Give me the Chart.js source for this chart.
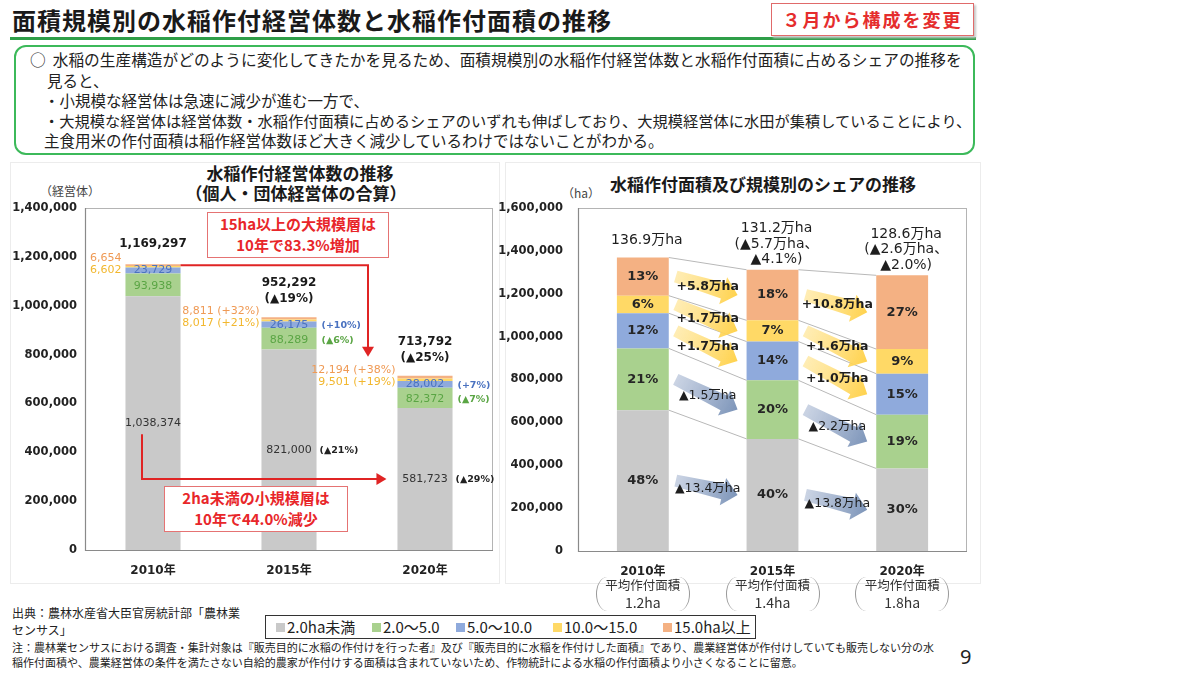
<!DOCTYPE html>
<html><head><meta charset="utf-8">
<script src="https://cdn.jsdelivr.net/npm/chart.js@4.4.0/dist/chart.umd.min.js"></script>
<style>
body{margin:0;width:1200px;height:675px;background:#fff;position:relative;overflow:hidden;font-family:"Noto Sans CJK JP",sans-serif;color:#222}
.a{position:absolute;white-space:nowrap}
.title{left:12px;top:2px;font-size:24px;font-weight:700;letter-spacing:1px;color:#1a1a1a;line-height:36px}
.rule{left:10px;top:37px;width:966px;height:3px;background:#2e9e48}
.redtag{left:771px;top:3px;width:201px;height:31px;border:1px solid #e06a6a;box-shadow:2px 2px 2px #c8c8c8;color:#e52d2d;font-weight:700;font-size:18px;letter-spacing:2px;text-align:center;line-height:31px}
.gbox{left:14px;top:45px;width:957px;height:106px;border:2.5px solid #3cb95a;border-radius:12px}
.gl{font-size:15.5px;line-height:20px;color:#222}
.ctitle{font-size:17px;font-weight:700;line-height:20px;color:#1a1a1a;transform:translateX(-50%)}
.unit{font-size:12px;color:#444;line-height:14px}
.redbox{border:1.5px solid #e57373;background:#fff;color:#e8262a;font-weight:700;font-size:15px;line-height:21px;text-align:center;z-index:3}
.brk{width:92px;height:34px;border-left:1.5px solid #999;border-right:1.5px solid #999;border-radius:12px/18px;text-align:center;transform:translateX(-50%)}
.brk .t1{font-size:12.5px;line-height:16px;color:#333}
.brk .t2{font-size:14px;line-height:18px;color:#333}
.leg{left:265px;top:615px;width:489px;height:22px;border:1.5px solid #333}
.li{font-size:15px;line-height:24px;color:#222;top:615px}
.sq{display:inline-block;width:9px;height:9px;margin-right:2px;vertical-align:1px}
.src{font-size:12px;line-height:16px;color:#222;left:12px}
.note{font-size:11px;line-height:15px;color:#222;left:12px}
.panel{border:1px solid #ececec}
</style></head><body>

<div class="a title">面積規模別の水稲作付経営体数と水稲作付面積の推移</div>
<div class="a rule"></div>
<div class="a redtag">３月から構成を変更</div>
<div class="a gbox"></div>
<div class="a gl" style="left:30px;top:50px;font-size:15.7px">○&nbsp;&nbsp;水稲の生産構造がどのように変化してきたかを見るため、面積規模別の水稲作付経営体数と水稲作付面積に占めるシェアの推移を</div>
<div class="a gl" style="left:47px;top:70px">見ると、</div>
<div class="a gl" style="left:44px;top:90px">・小規模な経営体は急速に減少が進む一方で、</div>
<div class="a gl" style="left:44px;top:110px;font-size:15.25px">・大規模な経営体は経営体数・水稲作付面積に占めるシェアのいずれも伸ばしており、大規模経営体に水田が集積していることにより、</div>
<div class="a gl" style="left:44px;top:130px">主食用米の作付面積は稲作経営体数ほど大きく減少しているわけではないことがわかる。</div>

<div class="a panel" style="left:10px;top:162px;width:488px;height:420px"></div>
<div class="a panel" style="left:505px;top:162px;width:474px;height:420px"></div>

<div class="a ctitle" style="left:300px;top:163px">水稲作付経営体数の推移</div>
<div class="a ctitle" style="left:296px;top:183px">（個人・団体経営体の合算）</div>
<div class="a unit" style="left:40px;top:184px">（経営体）</div>
<div class="a ctitle" style="left:763px;top:174px">水稲作付面積及び規模別のシェアの推移</div>
<div class="a unit" style="left:562px;top:186px">（ha）</div>

<div class="a" style="left:0;top:180px;width:500px;height:400px"><canvas id="c1" width="500" height="400"></canvas></div>
<div class="a" style="left:488px;top:180px;width:492px;height:400px"><canvas id="c2" width="492" height="400"></canvas></div>

<div class="a redbox" style="left:207px;top:212px;width:180px;height:44px">15ha以上の大規模層は<br>10年で83.3%増加</div>
<div class="a redbox" style="left:164px;top:486px;width:182px;height:44px">2ha未満の小規模層は<br>10年で44.0%減少</div>

<div id="brks"></div>

<div class="a src" style="top:605px">出典：農林水産省大臣官房統計部「農林業</div>
<div class="a src" style="top:622px">センサス」</div>
<div class="a leg"></div>
<div id="legitems"></div>
<div class="a note" style="top:640px">注：農林業センサスにおける調査・集計対象は『販売目的に水稲の作付けを行った者』及び『販売目的に水稲を作付けした面積』であり、農業経営体が作付けしていても販売しない分の水</div>
<div class="a note" style="top:655px">稲作付面積や、農業経営体の条件を満たさない自給的農家が作付けする面積は含まれていないため、作物統計による水稲の作付面積より小さくなることに留意。</div>
<div class="a" style="left:960px;top:644px;font-family:'Noto Sans';font-size:20px;line-height:26px">9</div>

<script>
// ---------- data ----------
const years = ['2010年', '2015年', '2020年'];
const sizeClasses = ['2.0ha未満', '2.0～5.0', '5.0～10.0', '10.0～15.0', '15.0ha以上'];
const segColors = ['#c9c9c9', '#a9d18e', '#8faadc', '#ffd966', '#f4b183'];
const labelColors = ['#333333', '#5aa544', '#4a72c0', '#f2b72e', '#ef9a55'];

// left chart: number of rice-planting farm entities
const farms_lt2   = [1038374, 821000, 581723];
const farms_2to5  = [93938, 88289, 82372];
const farms_5to10 = [23729, 26175, 28002];
const farms_10to15 = [6602, 8017, 9501];
const farms_15plus = [6654, 8811, 12194];
const farmTotals = [1169297, 952292, 713792];
const farmTotalChange = ['', '(▲19%)', '(▲25%)'];
const farmChange_lt2 = ['', '(▲21%)', '(▲29%)'];
const farmChange_2to5 = ['', '(▲6%)', '(▲7%)'];
const farmChange_5to10 = ['', '(+10%)', '(+7%)'];
const farmChange_10to15 = ['', '(+21%)', '(+19%)'];
const farmChange_15plus = ['', '(+32%)', '(+38%)'];
const leftMax = 1400000, leftStep = 200000;

// right chart: planted area (ha)
const area_lt2 = [657000, 523000, 385000];
const area_2to5 = [288000, 273000, 251000];
const area_5to10 = [164000, 181000, 191000];
const area_10to15 = [82000, 99000, 115000];
const area_15plus = [178000, 236000, 344000];
const share_lt2 = ['48%', '40%', '30%'];
const share_2to5 = ['21%', '20%', '19%'];
const share_5to10 = ['12%', '14%', '15%'];
const share_10to15 = ['6%', '7%', '9%'];
const share_15plus = ['13%', '18%', '27%'];
const areaTotalLabels = [['136.9万ha'], ['131.2万ha', '(▲5.7万ha、', '▲4.1%)'], ['128.6万ha', '(▲2.6万ha、', '▲2.0%)']];
const delta_lt2 = ['▲13.4万ha', '▲13.8万ha'];
const delta_2to5 = ['▲1.5万ha', '▲2.2万ha'];
const delta_5to10 = ['+1.7万ha', '+1.0万ha'];
const delta_10to15 = ['+1.7万ha', '+1.6万ha'];
const delta_15plus = ['+5.8万ha', '+10.8万ha'];
const avgArea = ['1.2ha', '1.4ha', '1.8ha'];
const rightMax = 1600000, rightStep = 200000;

// ---------- helpers ----------
const NUMF = '"DejaVu Sans","Noto Sans CJK JP",sans-serif';
const fmt = v => v.toLocaleString('en-US');
function geom(chart, k, i) {
  const el = chart.getDatasetMeta(k).data[i];
  const p = el.getProps(['x', 'y', 'base', 'width'], true);
  return {x: p.x, l: p.x - p.width / 2, r: p.x + p.width / 2, top: Math.min(p.y, p.base), bot: Math.max(p.y, p.base), mid: (p.y + p.base) / 2};
}
function txt(ctx, s, x, y, font, color, align) {
  ctx.font = font; ctx.fillStyle = color; ctx.textAlign = align || 'center'; ctx.textBaseline = 'middle';
  ctx.fillText(s, x, y);
}
function frame(chart) {
  const {ctx, chartArea: a} = chart;
  ctx.save();
  ctx.strokeStyle = '#b4b4b4'; ctx.lineWidth = 1;
  ctx.strokeRect(a.left + 0.5, a.top + 0.5, a.right - a.left - 1, a.bottom - a.top);
  ctx.strokeStyle = '#8a8a8a'; ctx.lineWidth = 1.2;
  ctx.beginPath(); ctx.moveTo(a.left + 0.5, a.top); ctx.lineTo(a.left + 0.5, a.bottom + 0.5); ctx.lineTo(a.right, a.bottom + 0.5); ctx.stroke();
  ctx.restore();
}
function fatArrow(ctx, x1, y1, x2, y2, c0, c1) {
  const dx = x2 - x1, dy = y2 - y1, L = Math.hypot(dx, dy), ux = dx / L, uy = dy / L, px = -uy, py = ux;
  const hl = 15, hw = 14, bw1 = 6, bw2 = 8;
  const nx = x2 - ux * hl, ny = y2 - uy * hl;
  const pts = [[x1 + px * bw1, y1 + py * bw1], [nx + px * bw2, ny + py * bw2], [nx + px * hw, ny + py * hw], [x2, y2],
               [nx - px * hw, ny - py * hw], [nx - px * bw2, ny - py * bw2], [x1 - px * bw1, y1 - py * bw1]];
  const g = ctx.createLinearGradient(x1, y1, x2, y2); g.addColorStop(0, c0); g.addColorStop(1, c1);
  ctx.fillStyle = g; ctx.beginPath();
  pts.forEach((p, i) => i ? ctx.lineTo(p[0], p[1]) : ctx.moveTo(p[0], p[1]));
  ctx.closePath(); ctx.fill();
}
// keep the plot area exactly where the slide has it
function calibrate(chart, wantTop, wantBottom) {
  for (let t = 0; t < 4; t++) {
    const a = chart.chartArea;
    const dt = wantTop - a.top, db = a.bottom - wantBottom;
    if (Math.abs(dt) < 0.5 && Math.abs(db) < 0.5) break;
    chart.options.layout.padding.top += dt;
    chart.options.layout.padding.bottom += db;
    chart.update();
  }
}

const baseOpts = (max, step, yWidth, padRight, tickPad) => ({
  responsive: false, animation: false, devicePixelRatio: 1,
  layout: {padding: {top: 28, right: padRight, left: 0, bottom: 0}},
  plugins: {legend: {display: false}, tooltip: {enabled: false}},
  scales: {
    x: {stacked: true, grid: {display: false}, border: {display: false},
        ticks: {color: '#222', padding: 6, font: {family: NUMF, size: 12, weight: 'bold'}}},
    y: {stacked: true, min: 0, max: max, grid: {display: false}, border: {display: false},
        ticks: {stepSize: step, color: '#222', padding: tickPad, font: {family: NUMF, size: 11.5, weight: 'bold'}, callback: v => fmt(v)},
        afterFit: s => { s.width = yWidth; }}
  }
});

// ---------- left chart ----------
const leftSeries = [farms_lt2, farms_2to5, farms_5to10, farms_10to15, farms_15plus];
const leftAnno = {
  id: 'leftAnno',
  beforeDatasetsDraw: c => frame(c),
  afterDatasetsDraw(chart) {
    const ctx = chart.ctx; ctx.save();
    const fN = '11px ' + NUMF, fB = 'bold 12px ' + NUMF, fP = 'bold 9.5px ' + NUMF;
    for (let i = 0; i < years.length; i++) {
      const g0 = geom(chart, 0, i), g1 = geom(chart, 1, i), g2 = geom(chart, 2, i), g3 = geom(chart, 3, i), g4 = geom(chart, 4, i);
      txt(ctx, fmt(farms_lt2[i]), g0.x, g0.mid, fN, '#333');
      if (farmChange_lt2[i]) txt(ctx, farmChange_lt2[i], g0.r + 3, g0.mid + 1, fP, '#222', 'left');
      txt(ctx, fmt(farms_2to5[i]), g1.x, g1.mid + 1, fN, labelColors[1]);
      if (farmChange_2to5[i]) txt(ctx, farmChange_2to5[i], g1.r + 5, g1.mid + 2, fP, labelColors[1], 'left');
      txt(ctx, fmt(farms_5to10[i]), g2.x, g2.mid, fN, labelColors[2]);
      if (farmChange_5to10[i]) txt(ctx, farmChange_5to10[i], g2.r + 5, g2.mid + 1, fP, labelColors[2], 'left');
      const ym = (g3.bot + g4.top) / 2;
      const s4 = fmt(farms_15plus[i]) + (farmChange_15plus[i] ? ' ' + farmChange_15plus[i] : '');
      const s3 = fmt(farms_10to15[i]) + (farmChange_10to15[i] ? ' ' + farmChange_10to15[i] : '');
      txt(ctx, s4, g4.l - (i ? 2 : 4), ym - 8, fN, labelColors[4], 'right');
      txt(ctx, s3, g3.l - (i ? 2 : 4), ym + 4, fN, labelColors[3], 'right');
      if (farmTotalChange[i]) {
        txt(ctx, fmt(farmTotals[i]), g4.x, g4.top - 34, fB, '#1a1a1a');
        txt(ctx, farmTotalChange[i], g4.x, g4.top - 18, fB, '#1a1a1a');
      } else {
        txt(ctx, fmt(farmTotals[i]), g4.x, g4.top - 20, fB, '#1a1a1a');
      }
    }
    const a0 = geom(chart, 4, 0), b1 = geom(chart, 4, 1), c2 = geom(chart, 4, 2);
    const xr = (b1.r + c2.l) / 2 + 11, yEnd = c2.top - 19;
    ctx.strokeStyle = '#e02424'; ctx.fillStyle = '#e02424'; ctx.lineWidth = 2;
    ctx.beginPath(); ctx.moveTo(a0.r, a0.top + 1); ctx.lineTo(xr, a0.top + 1); ctx.lineTo(xr, yEnd - 8); ctx.stroke();
    ctx.beginPath(); ctx.moveTo(xr - 6, yEnd - 10); ctx.lineTo(xr + 6, yEnd - 10); ctx.lineTo(xr, yEnd); ctx.closePath(); ctx.fill();
    const s0 = geom(chart, 0, 0), s2 = geom(chart, 0, 2);
    const xs = s0.x - 11, ys = s0.mid + 11, yh = s2.mid, xe = s2.l - 11;
    ctx.beginPath(); ctx.moveTo(xs, ys); ctx.lineTo(xs, yh); ctx.lineTo(xe - 8, yh); ctx.stroke();
    ctx.beginPath(); ctx.moveTo(xe - 10, yh - 6); ctx.lineTo(xe - 10, yh + 6); ctx.lineTo(xe, yh); ctx.closePath(); ctx.fill();
    ctx.restore();
  }
};
const lc = new Chart(document.getElementById('c1'), {
  type: 'bar',
  data: {labels: years, datasets: leftSeries.map((d, k) => ({label: sizeClasses[k], data: d, backgroundColor: segColors[k], borderWidth: 0, barPercentage: 0.405, categoryPercentage: 1}))},
  options: baseOpts(leftMax, leftStep, 85, 7, 0),
  plugins: [leftAnno]
});
calibrate(lc, 208 - 180, 550 - 180);

// ---------- right chart ----------
const rightSeries = [area_lt2, area_2to5, area_5to10, area_10to15, area_15plus];
const shares = [share_lt2, share_2to5, share_5to10, share_10to15, share_15plus];
const deltas = [delta_lt2, delta_2to5, delta_5to10, delta_10to15, delta_15plus];
const rightAnno = {
  id: 'rightAnno',
  beforeDatasetsDraw: c => frame(c),
  afterDatasetsDraw(chart) {
    const ctx = chart.ctx; ctx.save();
    const n = years.length;
    ctx.strokeStyle = '#b8b8b8'; ctx.lineWidth = 1;
    for (let k = 0; k < 5; k++) for (let i = 0; i < n - 1; i++) {
      const a = geom(chart, k, i), b = geom(chart, k, i + 1);
      ctx.beginPath(); ctx.moveTo(a.r, a.top); ctx.lineTo(b.l, b.top); ctx.stroke();
    }
    for (let k = 0; k < 5; k++) for (let i = 0; i < n - 1; i++) {
      const a = geom(chart, k, i), b = geom(chart, k, i + 1);
      const x1 = a.r + 7, x2 = b.l - 9, y1 = a.mid, y2 = b.mid;
      const up = deltas[k][i].charAt(0) === '+';
      if (up) fatArrow(ctx, x1, y1, x2, y2, 'rgba(255,222,120,0.55)', '#ffd24d');
      else fatArrow(ctx, x1, y1, x2, y2, 'rgba(140,160,195,0.45)', '#7d95b9');
      txt(ctx, deltas[k][i], (x1 + x2) / 2 + 1, (y1 + y2) / 2 + 1, (up ? 'bold ' : '') + '12.5px ' + NUMF, '#1e1e1e');
    }
    for (let k = 0; k < 5; k++) for (let i = 0; i < n; i++) {
      const g = geom(chart, k, i);
      txt(ctx, shares[k][i], g.x, g.mid, 'bold 13px ' + NUMF, '#262626');
    }
    for (let i = 0; i < n; i++) {
      const g = geom(chart, 4, i), L = areaTotalLabels[i];
      if (L.length === 1) txt(ctx, L[0], g.x + 4, g.top - 17, '14px ' + NUMF, '#1e1e1e');
      else L.forEach((s, j) => txt(ctx, s, g.x + 4, g.top - 10 - 15.5 * (L.length - 1 - j), '14px ' + NUMF, '#1e1e1e'));
    }
    ctx.restore();
  }
};
const RIGHT_LEFT = 488;
const rc = new Chart(document.getElementById('c2'), {
  type: 'bar',
  data: {labels: years, datasets: rightSeries.map((d, k) => ({label: sizeClasses[k], data: d, backgroundColor: segColors[k], borderWidth: 0, barPercentage: 0.40, categoryPercentage: 1}))},
  options: baseOpts(rightMax, rightStep, 90, 13, 7),
  plugins: [rightAnno]
});
calibrate(rc, 208 - 180, 551 - 180);

const brks = document.getElementById('brks');
for (let i = 0; i < years.length; i++) {
  const x = RIGHT_LEFT + geom(rc, 0, i).x;
  const d = document.createElement('div');
  d.className = 'a brk'; d.style.left = x + 'px'; d.style.top = '577px';
  d.innerHTML = '<div class="t1">平均作付面積</div><div class="t2">' + avgArea[i] + '</div>';
  brks.appendChild(d);
}
const legX = [276, 372, 456, 553, 663];
const li = document.getElementById('legitems');
sizeClasses.forEach((s, k) => {
  const d = document.createElement('div');
  d.className = 'a li'; d.style.left = legX[k] + 'px';
  d.innerHTML = '<span class="sq" style="background:' + segColors[k] + '"></span>' + s;
  li.appendChild(d);
});
</script>
</body></html>
